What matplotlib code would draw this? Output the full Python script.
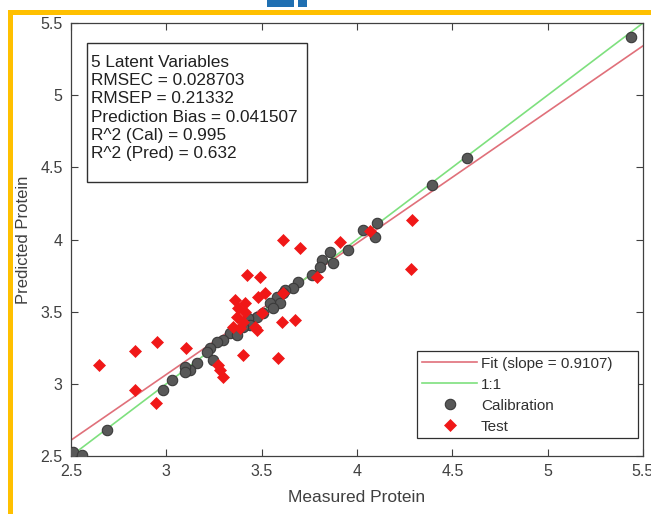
import matplotlib.pyplot as plt
from matplotlib.patches import Rectangle
import numpy as np

plt.rcParams['font.family'] = ['Liberation Sans', 'DejaVu Sans']

# calibration set (measured, predicted)
cal_x = [5.437, 4.577, 4.393, 4.105, 4.031, 4.094, 3.953, 3.874, 3.858, 3.816, 3.806,
         3.764, 3.690, 3.664, 3.622, 3.612, 3.580, 3.596, 3.544, 3.559, 3.507, 3.475,
         3.428, 3.439, 3.402, 3.350, 3.334, 3.370, 3.297, 3.266, 3.229, 3.213, 3.245,
         3.161, 3.124, 3.098, 3.098, 3.030, 2.982, 2.689, 2.510, 2.558]
cal_y = [5.404, 4.565, 4.378, 4.115, 4.066, 4.018, 3.928, 3.838, 3.914, 3.858, 3.810,
         3.754, 3.706, 3.664, 3.650, 3.630, 3.602, 3.560, 3.560, 3.526, 3.491, 3.463,
         3.456, 3.408, 3.394, 3.373, 3.352, 3.339, 3.304, 3.290, 3.248, 3.221, 3.165,
         3.144, 3.096, 3.117, 3.082, 3.027, 2.957, 2.680, 2.528, 2.507]

# test set
test_x = [2.647, 2.836, 2.951, 2.836, 2.946, 3.103, 3.271, 3.281, 3.297, 3.402, 3.585,
          3.606, 3.675, 3.423, 3.491, 3.517, 3.481, 3.612, 3.360, 3.412, 3.376, 3.412,
          3.502, 3.370, 3.402, 3.350, 3.386, 3.465, 3.475, 3.790, 3.612, 3.701, 3.911,
          4.068, 4.288, 4.283]
test_y = [3.131, 3.228, 3.290, 2.957, 2.867, 3.248, 3.131, 3.096, 3.047, 3.200, 3.179,
          3.429, 3.442, 3.754, 3.740, 3.630, 3.602, 3.630, 3.581, 3.560, 3.526, 3.498,
          3.491, 3.463, 3.429, 3.394, 3.387, 3.394, 3.373, 3.740, 3.997, 3.941, 3.983,
          4.059, 4.135, 3.796]

slope = 0.9107
intercept = 0.333

stats = ["5 Latent Variables", "RMSEC = 0.028703", "RMSEP = 0.21332",
         "Prediction Bias = 0.041507", "R^2 (Cal) = 0.995", "R^2 (Pred) = 0.632"]

W, H = 651, 514
fig = plt.figure(figsize=(W / 100, H / 100), dpi=100)
ax = fig.add_axes([71 / W, (H - 456) / H, 572 / W, (456 - 23) / H])

xl = np.array([2.5, 5.5])
# trailing spaces give the wide right margin of the original legend
ax.plot(xl, slope * xl + intercept, color='#e0707a', lw=1.2,
        label='Fit (slope = 0.9107)     ', zorder=2)
ax.plot(xl, xl, color='#7ee07e', lw=1.2, label='1:1', zorder=2)
ax.plot(cal_x, cal_y, 'o', ms=7.5, mfc='#585858', mec='#3a3a3a', mew=0.8,
        label='Calibration', zorder=3)
ax.plot(test_x, test_y, 'D', ms=6, mfc='#f01818', mec='#f01818', mew=0.5,
        label='Test', zorder=4)

ax.set_xlim(2.5, 5.5)
ax.set_ylim(2.5, 5.5)
ax.set_xticks(np.arange(2.5, 5.6, 0.5))
ax.set_yticks(np.arange(2.5, 5.6, 0.5))
ax.set_xticklabels(['2.5', '3', '3.5', '4', '4.5', '5', '5.5'])
ax.set_yticklabels(['2.5', '3', '3.5', '4', '4.5', '5', '5.5'])
ax.tick_params(direction='in', top=True, right=True, length=5, width=0.8,
               labelsize=11.5, labelcolor='#404040', color='#404040', pad=6)
for s in ax.spines.values():
    s.set_color('#404040')
    s.set_linewidth(0.9)

ax.set_xlabel('Measured Protein', fontsize=12.5, color='#404040', labelpad=8)
ax.set_ylabel('Predicted Protein', fontsize=12, color='#404040', labelpad=7)

leg = ax.legend(loc='lower right', bbox_to_anchor=(0.997, 0.034), fontsize=11,
                fancybox=False, framealpha=1, edgecolor='#303030', handlelength=3.6,
                handleheight=0.9, borderpad=0.3, labelspacing=0.42, handletextpad=0.25,
                borderaxespad=0.2)
leg.get_frame().set_linewidth(0.9)
for t in leg.get_texts():
    t.set_color('#303030')

# statistics box
fig.patches.append(Rectangle((87 / W, (H - 182) / H), 220 / W, 139 / H,
                             transform=fig.transFigure, facecolor='white',
                             edgecolor='#303030', lw=1, zorder=5))
fig.text(91 / W, (H - 55) / H, "\n".join(stats), fontsize=12.4, color='#202020',
         va='top', ha='left', linespacing=1.27, zorder=6)

# orange frame and blue tab at the top
fig.patches.append(Rectangle((9.5 / W, -0.05), 1.0, (H - 11.5) / H + 0.05,
                             transform=fig.transFigure, fill=False,
                             edgecolor='#ffc000', lw=3.6, zorder=10))
fig.patches.append(Rectangle((267 / W, (H - 7) / H), 27 / W, 7 / H,
                             transform=fig.transFigure, facecolor='#1f6fb2',
                             edgecolor='none', zorder=10))
fig.patches.append(Rectangle((298 / W, (H - 7) / H), 9 / W, 7 / H,
                             transform=fig.transFigure, facecolor='#1f6fb2',
                             edgecolor='none', zorder=10))

fig.savefig('out.png', dpi=100)
